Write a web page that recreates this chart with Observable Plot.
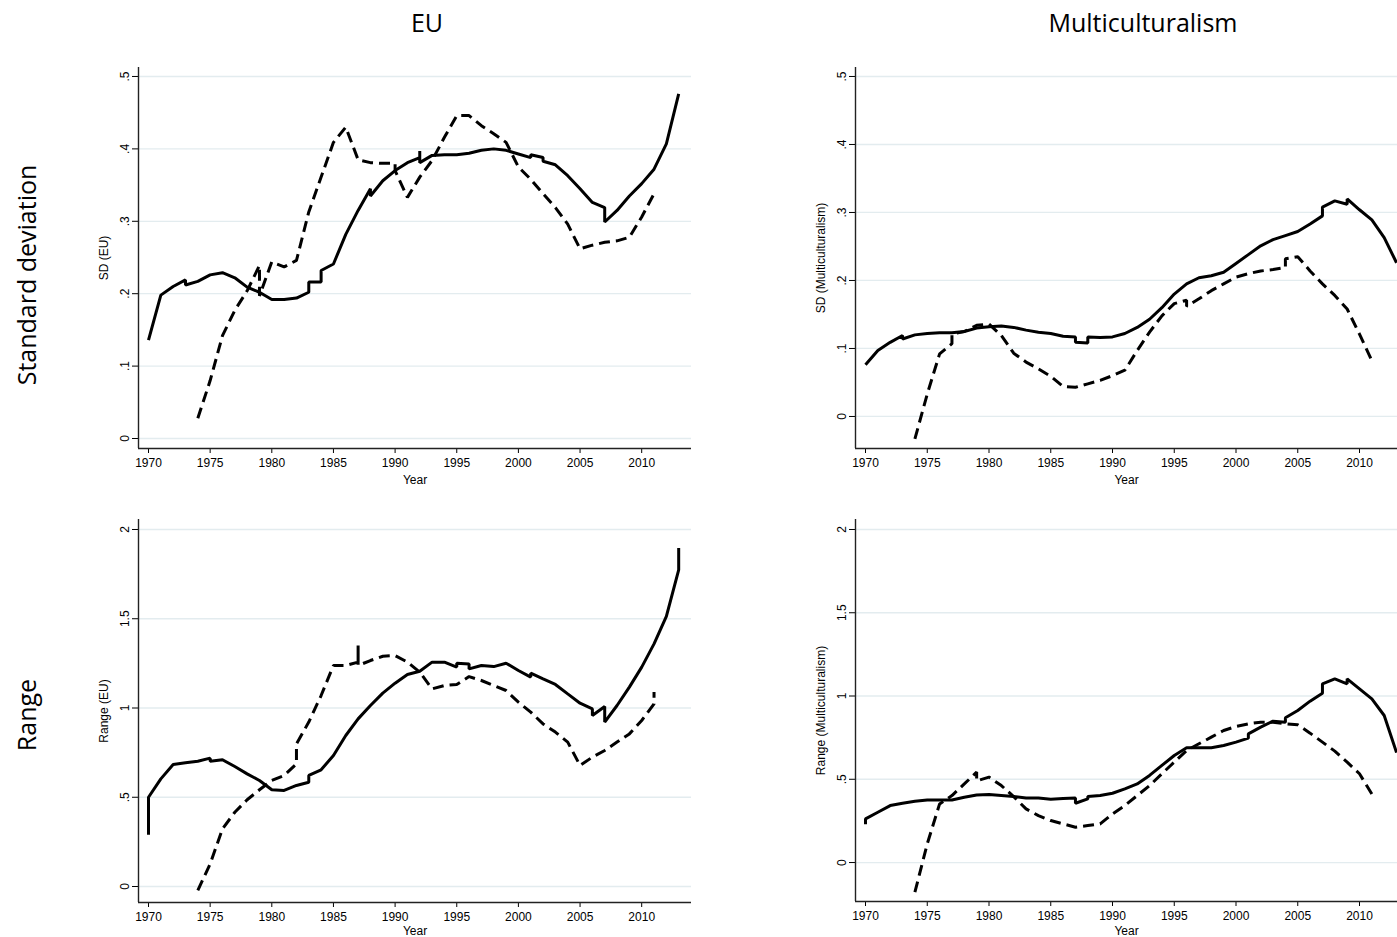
<!DOCTYPE html>
<html>
<head>
<meta charset="utf-8">
<script src="https://cdn.jsdelivr.net/npm/d3@7"></script>
<script src="https://cdn.jsdelivr.net/npm/@observablehq/plot@0.6"></script>
<style>
  html, body { margin: 0; padding: 0; background: #fff; overflow: hidden; }
  #page { position: relative; width: 1397px; height: 937px; overflow: hidden; background: #fff; }
  .col-title { position: absolute; top: 10px; font-family: "Open Sans", sans-serif; font-size: 25px; line-height: 25px; color: #000; transform: translateX(-50%); white-space: nowrap; }
  .row-title { position: absolute; font-family: "Open Sans", sans-serif; font-size: 25px; line-height: 25px; color: #000; white-space: nowrap; transform: translate(-50%, -50%) rotate(-90deg); }
  .panel { position: absolute; }
</style>
</head>
<body>
<div id="page"></div>
<script>
// Column and row headings
const columnTitles = ["EU", "Multiculturalism"];
const rowTitles = ["Standard deviation", "Range"];

// Shared x axis
const xTicks = [1970, 1975, 1980, 1985, 1990, 1995, 2000, 2005, 2010];
const xLabel = "Year";

// Y ticks per row
const sdTicks = [0, 0.1, 0.2, 0.3, 0.4, 0.5];
const rangeTicks = [0, 0.5, 1, 1.5, 2];

// Y axis titles per panel
const yLabels = ["SD (EU)", "SD (Multiculturalism)", "Range (EU)", "Range (Multiculturalism)"];

// Standard deviation, EU: [year, value]
const sdEuSolid = [
  [1970,.136],[1971,.198],[1972,.210],[1973,.219],[1973,.212],[1974,.217],[1975,.226],[1976,.229],
  [1977,.222],[1978,.209],[1979,.202],[1980,.192],[1981,.192],[1982,.194],[1983,.202],[1983,.216],
  [1984,.216],[1984,.232],[1985,.241],[1986,.282],[1987,.315],[1988,.345],[1988,.335],[1989,.356],
  [1990,.370],[1991,.381],[1992,.388],[1992,.397],[1992,.381],[1993,.391],[1994,.392],[1995,.392],
  [1996,.394],[1997,.398],[1998,.400],[1999,.398],[2000,.393],[2001,.388],[2001,.392],[2002,.388],
  [2002,.383],[2003,.378],[2004,.363],[2005,.345],[2006,.326],[2007,.319],[2007,.299],[2008,.315],
  [2009,.335],[2010,.352],[2011,.372],[2012,.407],[2013,.476]
];
const sdEuDashed = [
  [1974,.028],[1975,.080],[1976,.142],[1977,.177],[1978,.204],[1979,.239],[1979,.197],[1980,.244],
  [1981,.237],[1982,.246],[1983,.313],[1984,.361],[1985,.409],[1986,.430],[1987,.385],[1988,.381],
  [1989,.380],[1990,.380],[1990,.370],[1991,.333],[1992,.361],[1993,.384],[1994,.416],[1995,.446],
  [1996,.446],[1997,.432],[1998,.421],[1999,.409],[2000,.375],[2001,.358],[2002,.338],[2003,.319],
  [2004,.296],[2005,.262],[2006,.267],[2007,.271],[2008,.273],[2009,.278],[2010,.306],[2011,.338]
];

// Standard deviation, Multiculturalism
const sdMultiSolid = [
  [1970,.076],[1971,.097],[1972,.109],[1973,.119],[1973,.114],[1974,.120],[1975,.122],[1976,.123],
  [1977,.123],[1978,.125],[1979,.130],[1980,.132],[1981,.133],[1982,.131],[1983,.127],[1984,.124],
  [1985,.122],[1986,.118],[1987,.117],[1987,.109],[1988,.108],[1988,.117],[1989,.116],[1990,.117],
  [1991,.122],[1992,.131],[1993,.143],[1994,.160],[1995,.180],[1996,.195],[1997,.204],[1998,.207],
  [1999,.212],[2000,.225],[2001,.238],[2002,.251],[2003,.260],[2004,.266],[2005,.272],[2006,.283],
  [2007,.295],[2007,.308],[2008,.317],[2009,.312],[2009,.320],[2010,.304],[2011,.289],[2012,.263],
  [2013,.226]
];
const sdMultiDashed = [
  [1974,-.033],[1975,.033],[1976,.092],[1977,.107],[1977,.121],[1978,.125],[1979,.134],[1980,.136],
  [1981,.119],[1982,.093],[1983,.080],[1984,.070],[1985,.059],[1986,.044],[1987,.043],[1988,.048],
  [1989,.053],[1990,.060],[1991,.068],[1992,.097],[1993,.124],[1994,.148],[1995,.166],[1996,.171],
  [1996,.162],[1997,.173],[1998,.185],[1999,.195],[2000,.205],[2001,.210],[2002,.214],[2003,.216],
  [2004,.219],[2004,.232],[2005,.235],[2006,.214],[2007,.195],[2008,.178],[2009,.158],[2010,.121],
  [2011,.082]
];

// Range, EU
const rangeEuSolid = [
  [1970,.29],[1970,.50],[1971,.603],[1972,.683],[1973,.693],[1974,.702],[1975,.719],[1975,.702],
  [1976,.710],[1977,.672],[1978,.631],[1979,.594],[1980,.542],[1981,.538],[1982,.566],[1983,.584],
  [1983,.622],[1984,.654],[1985,.734],[1986,.846],[1987,.939],[1988,1.014],[1989,1.083],[1990,1.139],
  [1991,1.188],[1992,1.206],[1993,1.257],[1994,1.257],[1995,1.229],[1995,1.251],[1996,1.247],[1996,1.219],
  [1997,1.238],[1998,1.232],[1999,1.251],[2000,1.210],[2001,1.173],[2001,1.195],[2002,1.163],[2003,1.132],
  [2004,1.079],[2005,1.027],[2006,.995],[2006,.958],[2007,1.008],[2007,.921],[2008,1.014],[2009,1.117],
  [2010,1.229],[2011,1.359],[2012,1.513],[2013,1.774],[2013,1.897]
];
const rangeEuDashed = [
  [1974,-.022],[1975,.127],[1976,.323],[1977,.416],[1978,.486],[1979,.542],[1980,.594],[1981,.622],
  [1982,.687],[1982,.799],[1983,.921],[1984,1.070],[1985,1.238],[1986,1.238],[1987,1.257],[1987,1.350],
  [1987,1.238],[1988,1.266],[1989,1.290],[1990,1.294],[1991,1.257],[1992,1.201],[1993,1.107],[1994,1.126],
  [1995,1.132],[1996,1.176],[1997,1.154],[1998,1.126],[1999,1.098],[2000,1.033],[2001,.977],[2002,.911],
  [2003,.865],[2004,.809],[2005,.678],[2006,.725],[2007,.762],[2008,.809],[2009,.855],[2010,.930],
  [2011,1.023],[2011,1.089]
];

// Range, Multiculturalism
const rangeMultiSolid = [
  [1970,.23],[1970,.262],[1971,.302],[1972,.342],[1973,.356],[1974,.368],[1975,.376],[1976,.376],
  [1977,.376],[1978,.392],[1979,.406],[1980,.408],[1981,.402],[1982,.396],[1983,.388],[1984,.388],
  [1985,.380],[1986,.384],[1987,.388],[1987,.356],[1988,.382],[1988,.396],[1989,.402],[1990,.416],
  [1991,.442],[1992,.472],[1993,.523],[1994,.583],[1995,.643],[1996,.689],[1997,.689],[1998,.689],
  [1999,.703],[2000,.723],[2001,.747],[2001,.773],[2002,.813],[2003,.849],[2004,.843],[2004,.869],
  [2005,.913],[2006,.969],[2007,1.017],[2007,1.073],[2008,1.103],[2009,1.073],[2009,1.103],[2010,1.043],
  [2011,.983],[2012,.883],[2013,.66]
];
const rangeMultiDashed = [
  [1974,-.178],[1975,.112],[1976,.352],[1977,.402],[1978,.472],[1979,.543],[1979,.49],[1980,.513],
  [1981,.462],[1982,.396],[1983,.322],[1984,.282],[1985,.252],[1986,.232],[1987,.212],[1988,.222],
  [1989,.232],[1990,.292],[1991,.342],[1992,.402],[1993,.462],[1994,.533],[1995,.603],[1996,.673],
  [1997,.713],[1998,.753],[1999,.793],[2000,.817],[2001,.833],[2002,.843],[2003,.843],[2004,.833],
  [2005,.827],[2006,.777],[2007,.723],[2008,.669],[2009,.603],[2010,.533],[2011,.412]
];

const page = document.getElementById("page");

// Stata-style number labels: ".5" rather than "0.5"
const stataFmt = d => d === 0 ? "0" : String(d).replace(/^0\./, ".");

const ML = 60, MT = 12;

function panel({solid, dashed, yDomain, yTicks, yLabel, left, top, bottom, frameWidth, pxPerYear, marginRight, marginBottom, xLabelOffset}) {
  const frameHeight = bottom - top;
  const x0 = 1970 - 10 / pxPerYear;
  const x1 = x0 + frameWidth / pxPerYear;
  const chart = Plot.plot({
    width: ML + frameWidth + marginRight,
    height: MT + frameHeight + marginBottom,
    marginLeft: ML,
    marginTop: MT,
    marginRight,
    marginBottom,
    style: {fontFamily: "'Liberation Sans', Arial, sans-serif", fontSize: "12px", color: "#000", background: "#fff"},
    x: {domain: [x0, x1]},
    y: {domain: yDomain},
    marks: [
      Plot.ruleY(yTicks, {stroke: "#e3ecef", strokeWidth: 1.3}),
      Plot.line(solid, {x: d => d[0], y: d => d[1], stroke: "#000", strokeWidth: 3,
        strokeLinecap: "butt", strokeLinejoin: "miter", clip: true}),
      Plot.line(dashed, {x: d => d[0], y: d => d[1], stroke: "#000", strokeWidth: 3,
        strokeDasharray: "11,6", strokeLinecap: "butt", strokeLinejoin: "miter", clip: true}),
      Plot.axisY({ticks: yTicks, tickFormat: stataFmt, tickSize: 6, tickPadding: 4, tickRotate: -90,
        label: yLabel, labelAnchor: "center", labelOffset: 39, labelArrow: "none", fontSize: 12}),
      Plot.axisX({ticks: xTicks, tickFormat: d => String(d), tickSize: 5, tickPadding: 5,
        label: xLabel, labelAnchor: "center", labelOffset: xLabelOffset, labelArrow: "none", fontSize: 12}),
      Plot.ruleX([x0], {stroke: "#222", strokeWidth: 1.4}),
      Plot.ruleY([yDomain[0]], {stroke: "#222", strokeWidth: 1.4})
    ]
  });
  chart.classList.add("panel");
  chart.style.left = (left - ML) + "px";
  chart.style.top = (top - MT) + "px";
  page.appendChild(chart);
}

panel({solid: sdEuSolid, dashed: sdEuDashed, yDomain: [-0.0138, 0.5124], yTicks: sdTicks, yLabel: yLabels[0],
  left: 138, top: 67, bottom: 448, frameWidth: 553, pxPerYear: 12.33, marginRight: 10, marginBottom: 42, xLabelOffset: 35});
panel({solid: sdMultiSolid, dashed: sdMultiDashed, yDomain: [-0.0471, 0.5132], yTicks: sdTicks, yLabel: yLabels[1],
  left: 855, top: 67, bottom: 448, frameWidth: 542, pxPerYear: 12.35, marginRight: 0, marginBottom: 42, xLabelOffset: 35});
panel({solid: rangeEuSolid, dashed: rangeEuDashed, yDomain: [-0.0896, 2.056], yTicks: rangeTicks, yLabel: yLabels[2],
  left: 138, top: 519, bottom: 902, frameWidth: 553, pxPerYear: 12.33, marginRight: 10, marginBottom: 35, xLabelOffset: 32});
panel({solid: rangeMultiSolid, dashed: rangeMultiDashed, yDomain: [-0.234, 2.060], yTicks: rangeTicks, yLabel: yLabels[3],
  left: 855, top: 519, bottom: 901, frameWidth: 542, pxPerYear: 12.35, marginRight: 0, marginBottom: 36, xLabelOffset: 33});

// Headings
[[columnTitles[0], 427], [columnTitles[1], 1143]].forEach(([t, cx]) => {
  const d = document.createElement("div");
  d.className = "col-title";
  d.textContent = t;
  d.style.left = cx + "px";
  page.appendChild(d);
});
[[rowTitles[0], 275], [rowTitles[1], 715]].forEach(([t, cy]) => {
  const d = document.createElement("div");
  d.className = "row-title";
  d.textContent = t;
  d.style.left = "26px";
  d.style.top = cy + "px";
  page.appendChild(d);
});
</script>
</body>
</html>
